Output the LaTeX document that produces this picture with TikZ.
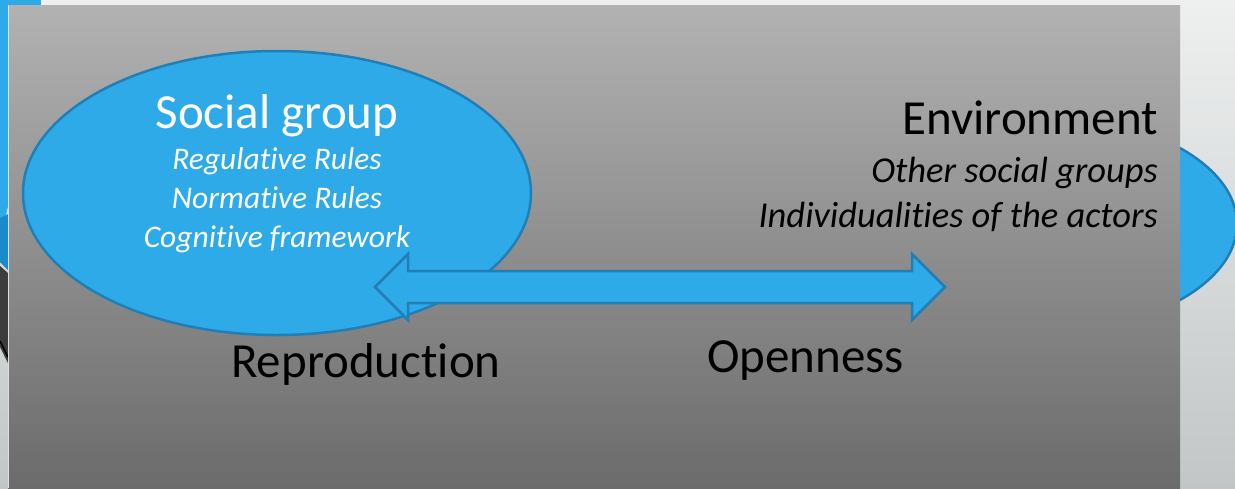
\documentclass[tikz,border=0pt]{standalone}
\usepackage{fontspec}
\setmainfont[Ligatures=NoCommon]{Carlito}
\usetikzlibrary{shapes.geometric}
\definecolor{bgtop}{HTML}{EEF0F0}
\definecolor{bgbot}{HTML}{C2C6C6}
\definecolor{paneltop}{HTML}{B2B2B2}
\definecolor{panelbot}{HTML}{6B6B6B}
\definecolor{skyblue}{HTML}{2FAAE9}
\definecolor{skyedge}{HTML}{1F7FB6}
\definecolor{deepblue}{HTML}{1A8BC8}
\definecolor{darkfrag}{HTML}{3C3C3C}
\tikzset{
  blobshape/.style={fill=skyblue, draw=skyedge, line width=2.5pt},
  bigtext/.style={inner sep=0pt, font=\fontsize{49}{58}\selectfont},
  smalltext/.style={inner sep=0pt, font=\itshape\fontsize{31.5}{39}\selectfont},
  righttext/.style={inner sep=0pt, font=\itshape\fontsize{36.5}{45}\selectfont},
}
\begin{document}
\begin{tikzpicture}[x=1pt,y=-1pt]
\useasboundingbox (0,0) rectangle (1235,488);
% background
\shade[top color=bgtop, bottom color=bgbot] (0,0) rectangle (1235,488);
% left fragments
\fill[skyblue] (0,0) rectangle (41,5);
\fill[skyblue] (0,0) rectangle (8,218);
\fill[bgtop!80!white] (8,207) -- (8,220) -- (5,220) -- cycle;
\fill[deepblue] (0,218) -- (8,214) -- (8,270) -- (0,262) -- cycle;
\fill[darkfrag] (0,266) -- (8,273) -- (8,363) -- (0,347) -- cycle;
\draw[black, line width=1.5pt] (0,341) -- (8,357);
% right ellipse (behind panel)
\draw[blobshape] (1031,224) ellipse [x radius=206pt, y radius=110pt];
% panel
\shade[top color=paneltop, bottom color=panelbot] (8,5) rectangle (1180,488);
\draw[white!75!gray, line width=1pt] (8.5,5) -- (8.5,488);
% social group ellipse
\node[blobshape, ellipse, minimum width=508pt, minimum height=284pt, inner sep=0pt] (sg) at (277,193) {};
% double arrow
\coordinate (ltip) at (375,287);
\coordinate (rtip) at (945,287);
\draw[blobshape, line join=miter] (ltip) -- (408,254) -- (408,271) -- (912,271) -- (912,254) -- (rtip) -- (912,320) -- (912,303) -- (408,303) -- (408,320) -- cycle;
% texts
\node[bigtext, white, anchor=base] (sgt) at (277,128) {Social group};
\node[smalltext, white, anchor=base, align=center] (sgl) at (277,247) {Regulative Rules\\Normative Rules\\Cognitive framework};
\node[bigtext, black, anchor=base east] (env) at (1158,134) {Environment};
\node[righttext, black, anchor=base east, align=right] (envl) at (1158,227) {Other social groups\\Individualities of the actors};
\node[bigtext, black, anchor=base west] (rep) at (231,377) {Reproduction};
\node[bigtext, black, anchor=base west] (open) at (707,372) {Openness};
\end{tikzpicture}
\end{document}
